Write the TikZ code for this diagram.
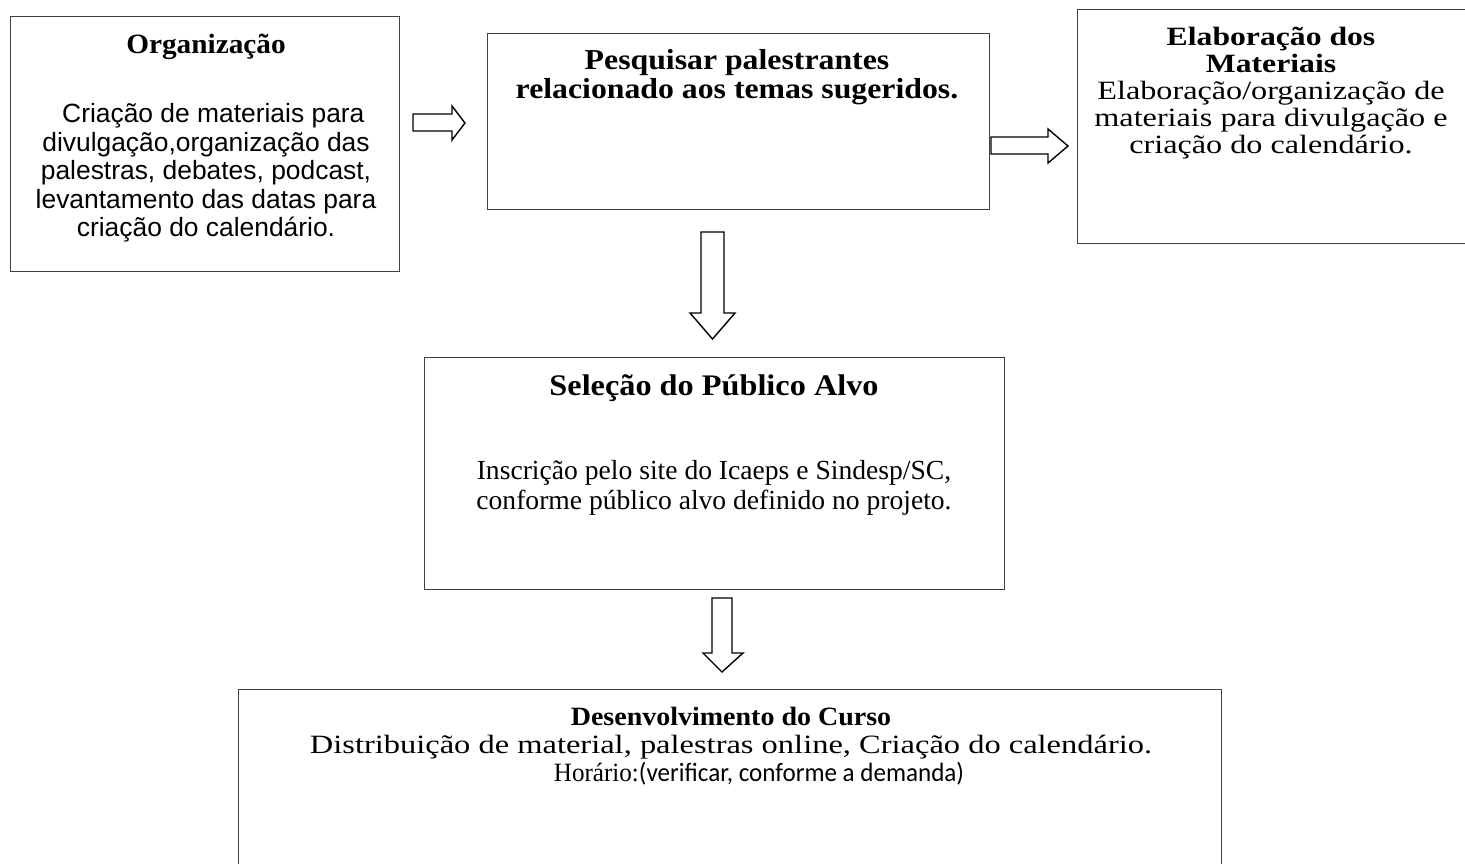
\documentclass[tikz,border=0pt]{standalone}
\usepackage{graphicx}
\usepackage{fontspec}
\setmainfont{Liberation Serif}
\newfontfamily\arialf{Liberation Sans}
\newfontfamily\calibrif{Carlito}
\newcommand{\hsq}[2]{\scalebox{#1}[1]{#2}}
\begin{document}
\begin{tikzpicture}[x=1bp,y=-1bp,
  box/.style={draw=black!75, line width=1.4bp, anchor=north west, inner sep=0pt},
  blockarrow/.style={draw=black, line width=1.4bp, fill=white, line join=miter},
  txt/.style={align=center, inner sep=0pt}]
\useasboundingbox (0,0) rectangle (1465,863);
% boxes
\node[box, minimum width=389bp, minimum height=255bp] (b1) at (10,16) {};
\node[box, minimum width=502bp, minimum height=176bp] (b2) at (487,33) {};
\node[box, minimum width=400bp, minimum height=234bp] (b3) at (1077,9) {};
\node[box, minimum width=580bp, minimum height=232bp] (b4) at (424,357) {};
\node[box, minimum width=983bp, minimum height=200bp] (b5) at (238,689) {};
% texts
\node[txt, font=\fontsize{28}{30}\selectfont\bfseries] (t1) at (206,47) {\hsq{1.05}{Organização}};
\node[txt, font=\arialf\fontsize{26.5}{28.5}\selectfont] (d1) at (206,173) {\ \ Criação de materiais para\\divulgação,organização das\\palestras, debates, podcast,\\levantamento das datas para\\criação do calendário.};
\node[txt, font=\fontsize{29}{29}\selectfont\bfseries] (t2) at (737,77) {\hsq{1.1}{Pesquisar palestrantes}\\\hsq{1.1}{relacionado aos temas sugeridos.}};
\node[txt, font=\fontsize{26.5}{27}\selectfont] (t3) at (1271,93) {\hsq{1.2}{\bfseries Elaboração dos}\\\hsq{1.2}{\bfseries Materiais}\\\hsq{1.22}{Elaboração/organização de}\\\hsq{1.22}{materiais para divulgação e}\\\hsq{1.22}{criação do calendário.}};
\node[txt, font=\fontsize{30}{30}\selectfont\bfseries] (t4) at (714,388) {\hsq{1.08}{Seleção do Público Alvo}};
\node[txt, font=\fontsize{27.7}{30}\selectfont] (d4) at (714,488) {Inscrição pelo site do Icaeps e Sindesp/SC,\\conforme público alvo definido no projeto.};
\node[txt, font=\fontsize{26.5}{28}\selectfont] (t5) at (731,746) {\hsq{1.06}{\bfseries Desenvolvimento do Curso}\\\hsq{1.23}{Distribuição de material, palestras online, Criação do calendário.}\\\hspace*{56bp}\hsq{0.95}{Horário:{\calibrif(verificar, conforme a demanda)}}};
% block arrows
\draw[blockarrow] (413,114) -- (452,114) -- (452,106) -- (465,123) -- (452,140) -- (452,131) -- (413,131) -- cycle;
\draw[blockarrow] (991,137) -- (1048,137) -- (1048,129) -- (1068,146) -- (1048,163) -- (1048,154) -- (991,154) -- cycle;
\draw[blockarrow] (701,232) -- (724,232) -- (724,313) -- (735,313) -- (712.5,339) -- (690,313) -- (701,313) -- cycle;
\draw[blockarrow] (712,598) -- (732,598) -- (732,653) -- (743,653) -- (722,672) -- (703,653) -- (712,653) -- cycle;
\end{tikzpicture}
\end{document}
